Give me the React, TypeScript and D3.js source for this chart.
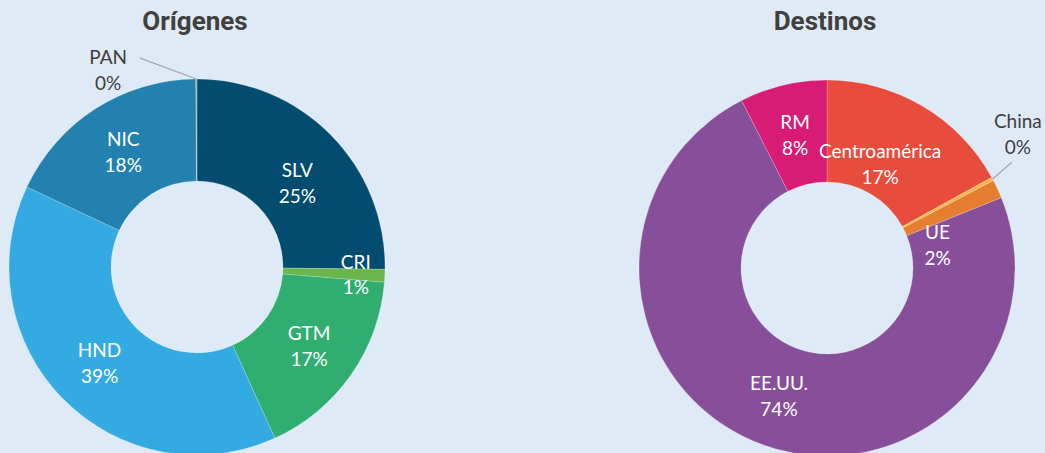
import React from "react";
import * as d3 from "d3";

// Orígenes
const origenNames = ["SLV", "CRI", "GTM", "HND", "NIC", "PAN"];
const origenValues = [25.2, 1.1, 16.9, 38.8, 17.9, 0.1];
const origenColors = ["#014c6f", "#6ab64c", "#2fae70", "#33aae1", "#2381b0", "#a5a5a5"];

// Destinos
const destinoNames = ["Centroamérica", "China", "UE", "EE.UU.", "RM"];
const destinoValues = [17.0, 0.3, 1.6, 73.6, 7.5];
const destinoColors = ["#e84c3d", "#f6b845", "#e67e30", "#874f9a", "#d81b74"];

const W = 1045;
const H = 453;
const OUTER = 188;
const INNER = 86;
const BG = "#deeaf6";
const LABEL_FONT = "Lato, 'Open Sans', sans-serif";

// label tweaks where Excel moved the label off the centroid
type Nudge = { angle?: number; r?: number; outside?: boolean; lead?: [number, number] };
const origenNudges: Record<string, Nudge> = {
  SLV: { r: 131, angle: 50 },
  CRI: { r: 159 },
  PAN: { outside: true, angle: -24.3, r: 216, lead: [32, -12] },
};
const destinoNudges: Record<string, Nudge> = {
  "Centroamérica": { angle: 27, r: 117 },
  UE: { angle: 78, r: 113 },
  China: { outside: true, angle: 55, r: 233, lead: [-6, 28] },
};

function Donut({ title, names, values, colors, cx, cy, nudges }: {
  title: string; names: string[]; values: number[]; colors: string[];
  cx: number; cy: number; nudges: Record<string, Nudge>;
}) {
  const total = d3.sum(values);
  const pie = d3.pie<number>().sort(null).value((d) => d);
  const arcs = pie(values);
  const arc = d3.arc<d3.PieArcDatum<number>>().innerRadius(INNER).outerRadius(OUTER);
  const pct = (v: number) => `${Math.round((v / total) * 100)}%`;

  return (
    <g>
      <text x={cx - 2} y={30} textAnchor="middle" fontFamily="Roboto, sans-serif"
        fontWeight={700} fontSize={26} fill="#404040">{title}</text>
      <g transform={`translate(${cx},${cy})`}>
        {arcs.map((a, i) => (
          <path key={names[i]} d={arc(a) || ""} fill={colors[i]}
            stroke="#ffffff" strokeOpacity={0.35} strokeWidth={0.6} />
        ))}
        {arcs.map((a, i) => {
          const n = nudges[names[i]] || {};
          const mid = (a.startAngle + a.endAngle) / 2;
          const ang = n.angle !== undefined ? (n.angle * Math.PI) / 180 : mid;
          const r = n.r !== undefined ? n.r : (INNER + OUTER) / 2;
          const x = r * Math.sin(ang);
          const y = -r * Math.cos(ang);
          const fill = n.outside ? "#404040" : "#ffffff";
          let leader = null;
          if (n.outside && n.lead) {
            const ex = OUTER * Math.sin(mid);
            const ey = -OUTER * Math.cos(mid);
            leader = (
              <line x1={ex} y1={ey} x2={x + n.lead[0]} y2={y + n.lead[1]}
                stroke="#a6a6a6" strokeWidth={1.3} />
            );
          }
          return (
            <g key={"l" + names[i]}>
              {leader}
              <text x={x} y={y - 6} textAnchor="middle" fontFamily={LABEL_FONT}
                fontSize={19} fill={fill}>{names[i]}</text>
              <text x={x} y={y + 20} textAnchor="middle" fontFamily={LABEL_FONT}
                fontSize={19} fill={fill}>{pct(values[i])}</text>
            </g>
          );
        })}
      </g>
    </g>
  );
}

export default function App() {
  return (
    <svg width={W} height={H} style={{ position: "fixed", left: 0, top: 0, display: "block" }}>
      <rect width={W} height={H} fill={BG} />
      <Donut title="Orígenes" names={origenNames} values={origenValues}
        colors={origenColors} cx={197} cy={267} nudges={origenNudges} />
      <Donut title="Destinos" names={destinoNames} values={destinoValues}
        colors={destinoColors} cx={827} cy={268} nudges={destinoNudges} />
    </svg>
  );
}
